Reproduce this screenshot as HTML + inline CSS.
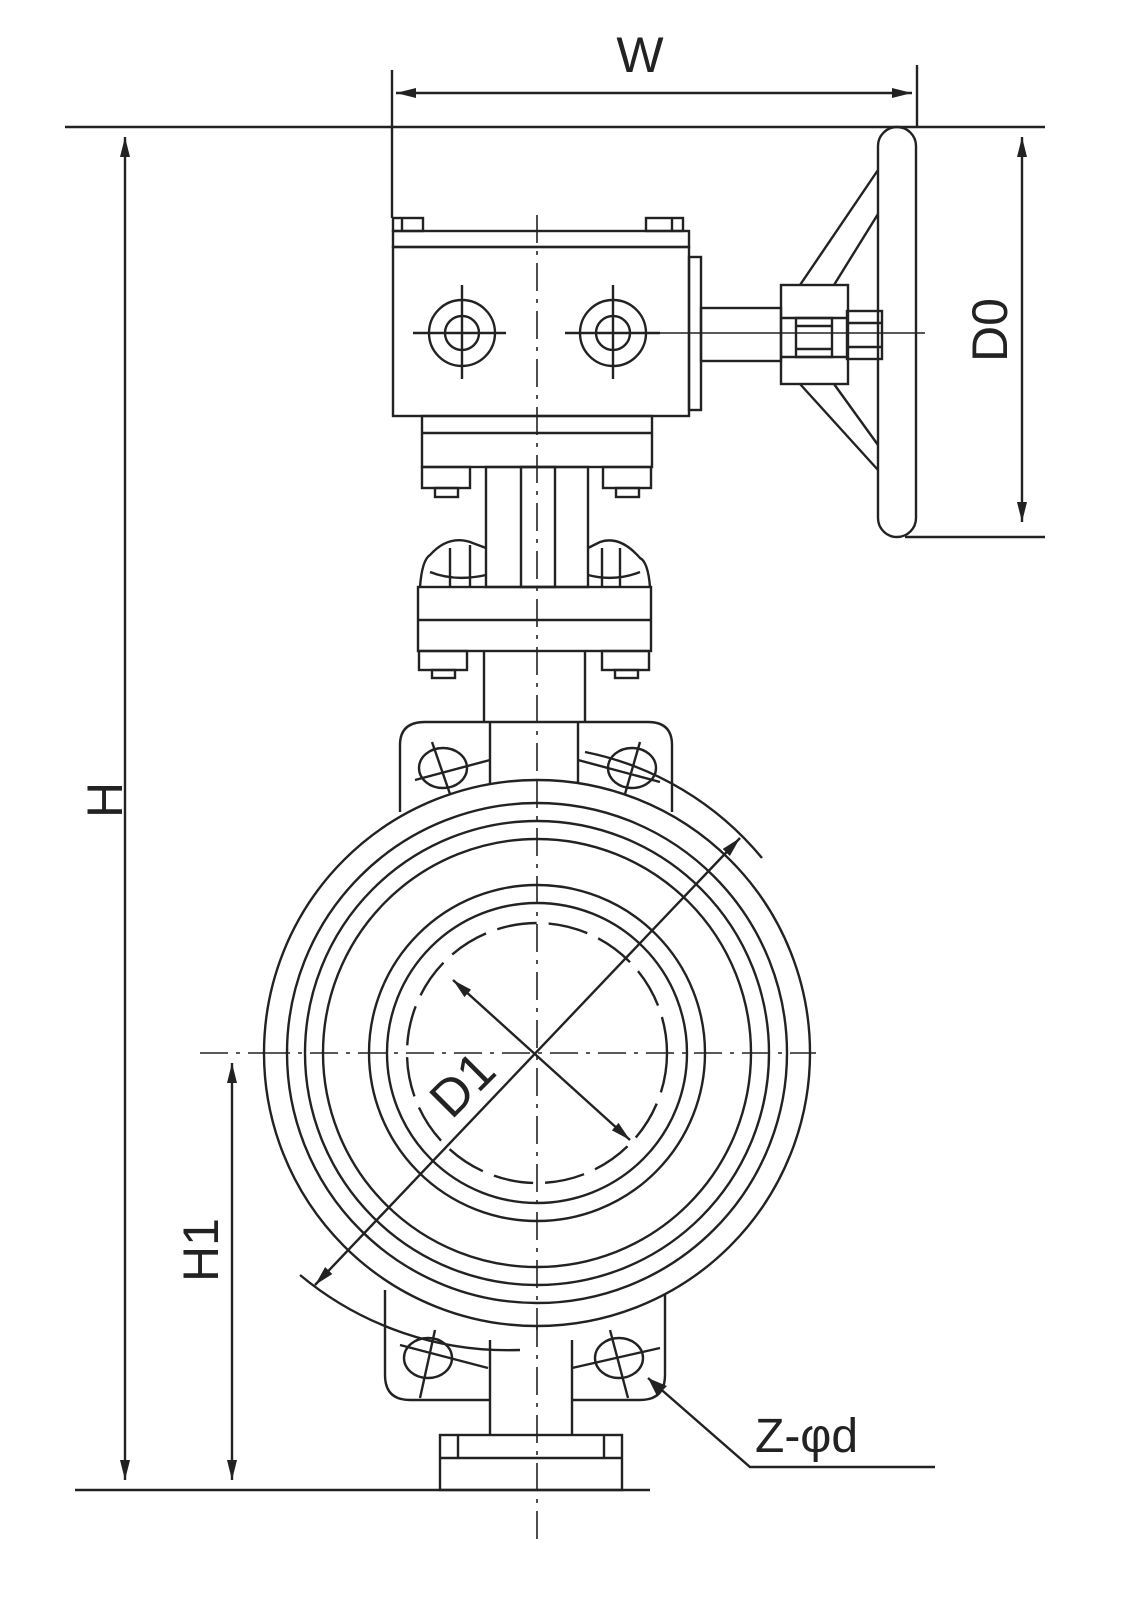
<!DOCTYPE html>
<html><head><meta charset="utf-8"><style>html,body{margin:0;padding:0;background:#fff}svg{display:block}</style></head>
<body>
<svg width="1139" height="1600" viewBox="0 0 1139 1600" xmlns="http://www.w3.org/2000/svg" fill="none" stroke="#222" stroke-width="2.4" font-family="'Liberation Sans', 'DejaVu Sans', sans-serif">
<defs>
<marker id="a" viewBox="0 0 20 10" refX="20" refY="5" markerWidth="20" markerHeight="10" markerUnits="userSpaceOnUse" orient="auto-start-reverse"><path d="M0,0 L20,5 L0,10 z" fill="#222" stroke="none"/></marker>
</defs>
<!-- dimension lines -->
<line x1="65" y1="127" x2="1045" y2="127"/>
<line x1="75" y1="1490" x2="650" y2="1490"/>
<line x1="125" y1="137" x2="125" y2="1480" marker-start="url(#a)" marker-end="url(#a)"/>
<line x1="232" y1="1063" x2="232" y2="1480" marker-start="url(#a)" marker-end="url(#a)"/>
<line x1="392" y1="70" x2="392" y2="218"/>
<line x1="917" y1="65" x2="917" y2="127"/>
<line x1="396" y1="93" x2="912" y2="93" marker-start="url(#a)" marker-end="url(#a)"/>
<line x1="905" y1="537" x2="1045" y2="537"/>
<line x1="1022" y1="137" x2="1022" y2="522" marker-start="url(#a)" marker-end="url(#a)"/>
<g fill="#222" stroke="none" font-size="50">
<text x="640" y="72" text-anchor="middle">W</text>
<text transform="translate(122,800) rotate(-90)" text-anchor="middle">H</text>
<text transform="translate(218,1250) rotate(-90)" text-anchor="middle">H1</text>
<text transform="translate(1007,330) rotate(-90)" text-anchor="middle">D0</text>
<text x="755" y="1452" font-size="48">Z-φd</text>
</g>
<!-- center lines -->
<line x1="537" y1="215" x2="537" y2="1545" stroke-dasharray="28,8,4,8" stroke-width="1.6"/>
<line x1="200" y1="1053" x2="822" y2="1053" stroke-dasharray="28,8,4,8" stroke-width="1.6"/>
<!-- gearbox -->
<rect x="393" y="218" width="30" height="13"/><line x1="402" y1="218" x2="402" y2="231"/>
<rect x="646" y="218" width="37" height="13"/><line x1="672" y1="218" x2="672" y2="231"/>
<rect x="393" y="231" width="296" height="16"/>
<rect x="393" y="247" width="296" height="169"/>
<rect x="689" y="257" width="12" height="153"/>
<circle cx="462" cy="333" r="33"/><circle cx="462" cy="333" r="17"/>
<line x1="413" y1="333" x2="506" y2="333"/><line x1="462" y1="285" x2="462" y2="379"/>
<circle cx="613" cy="333" r="33"/><circle cx="613" cy="333" r="17"/>
<line x1="565" y1="333" x2="660" y2="333"/><line x1="613" y1="285" x2="613" y2="379"/>
<line x1="660" y1="333" x2="925" y2="333" stroke-width="1.6"/>
<rect x="701" y="308" width="80" height="53"/>
<rect x="781" y="285" width="67" height="99"/>
<line x1="781" y1="318" x2="848" y2="318"/><line x1="781" y1="357" x2="848" y2="357"/>
<rect x="796" y="318" width="36" height="39"/>
<line x1="796" y1="326" x2="832" y2="326"/><line x1="796" y1="349" x2="832" y2="349"/>
<rect x="847" y="311" width="35" height="48"/>
<line x1="847" y1="323" x2="882" y2="323"/><line x1="847" y1="347" x2="882" y2="347"/>
<!-- handwheel -->
<rect x="878" y="127" width="38" height="410" rx="19"/>
<line x1="800" y1="285" x2="878" y2="170"/><line x1="834" y1="285" x2="878" y2="214"/>
<line x1="800" y1="384" x2="878" y2="470"/><line x1="834" y1="384" x2="878" y2="445"/>
<!-- stem bracket -->
<rect x="422" y="416" width="230" height="51"/>
<line x1="422" y1="433" x2="652" y2="433"/>
<rect x="422" y="467" width="48" height="21"/><rect x="435" y="488" width="23" height="9"/>
<rect x="603" y="467" width="48" height="21"/><rect x="616" y="488" width="23" height="9"/>
<rect x="486" y="467" width="102" height="120"/>
<rect x="521" y="467" width="34" height="120"/>
<rect x="418" y="587" width="233" height="64"/>
<line x1="418" y1="620" x2="651" y2="620"/>
<path d="M420,587 Q422,560 430,555 Q448,535 470,542 L486,548"/>
<path d="M650,587 Q648,562 640,558 Q620,535 600,542 L588,548"/>
<path d="M430,572 Q455,582 486,575"/><path d="M640,572 Q615,582 588,575"/>
<line x1="450" y1="548" x2="450" y2="587"/><line x1="470" y1="545" x2="470" y2="587"/>
<line x1="602" y1="548" x2="602" y2="587"/><line x1="620" y1="548" x2="620" y2="587"/>
<rect x="419" y="651" width="48" height="19"/><rect x="432" y="670" width="23" height="8"/>
<rect x="602" y="651" width="47" height="19"/><rect x="615" y="670" width="23" height="8"/>
<line x1="484" y1="651" x2="484" y2="722"/><line x1="585" y1="651" x2="585" y2="722"/>
<!-- body top lug -->
<path d="M400,812 L400,745 Q400,722 425,722 L648,722 Q672,722 672,745 L672,812"/>
<line x1="490" y1="722" x2="490" y2="790"/><line x1="578" y1="722" x2="578" y2="790"/>
<ellipse cx="443" cy="768" rx="24" ry="20"/><ellipse cx="632" cy="768" rx="24" ry="20"/>
<line x1="415" y1="780" x2="490" y2="760"/><line x1="432" y1="742" x2="450" y2="794"/>
<line x1="578" y1="760" x2="660" y2="782"/><line x1="640" y1="742" x2="625" y2="794"/>
<!-- body bottom lug -->
<path d="M385,1290 L385,1375 Q385,1400 410,1400 L490,1400"/>
<path d="M665,1290 L665,1375 Q665,1400 640,1400 L572,1400"/>
<line x1="490" y1="1340" x2="490" y2="1435"/><line x1="572" y1="1340" x2="572" y2="1435"/>
<ellipse cx="428" cy="1358" rx="24" ry="20"/><ellipse cx="619" cy="1358" rx="24" ry="20"/>
<line x1="400" y1="1345" x2="488" y2="1368"/><line x1="435" y1="1330" x2="420" y2="1398"/>
<line x1="572" y1="1368" x2="660" y2="1348"/><line x1="610" y1="1330" x2="628" y2="1398"/>
<rect x="440" y="1435" width="182" height="55"/>
<line x1="440" y1="1458" x2="622" y2="1458"/>
<line x1="458" y1="1435" x2="458" y2="1458"/><line x1="604" y1="1435" x2="604" y2="1458"/>
<!-- circles -->
<circle cx="537" cy="1053" r="273" fill="#fff"/>
<circle cx="537" cy="1053" r="250"/>
<circle cx="537" cy="1053" r="232"/>
<circle cx="537" cy="1053" r="214"/>
<circle cx="537" cy="1053" r="168"/>
<circle cx="537" cy="1053" r="150"/>
<circle cx="537" cy="1053" r="130" stroke-dasharray="40,12"/>
<line x1="537" y1="780" x2="537" y2="1330" stroke-dasharray="28,8,4,8" stroke-width="1.6"/>
<line x1="262" y1="1053" x2="812" y2="1053" stroke-dasharray="28,8,4,8" stroke-width="1.6"/>
<!-- arcs -->
<path d="M585,752 A308,308 0 0 1 762,858"/>
<path d="M300,1275 A325,325 0 0 0 520,1350"/>
<!-- D1 dims -->
<line x1="740" y1="838" x2="315" y2="1285" marker-start="url(#a)" marker-end="url(#a)"/>
<line x1="453" y1="980" x2="630" y2="1140" marker-start="url(#a)" marker-end="url(#a)"/>
<text transform="translate(475,1097) rotate(-45)" text-anchor="middle" fill="#222" stroke="none" font-size="52">D1</text>
<!-- Z-phi d leader -->
<polyline points="935,1467 750,1467 648,1378" />
<path d="M648,1378 L667,1386 L657,1396 z" fill="#222" stroke="none"/>
</svg>
</body></html>
